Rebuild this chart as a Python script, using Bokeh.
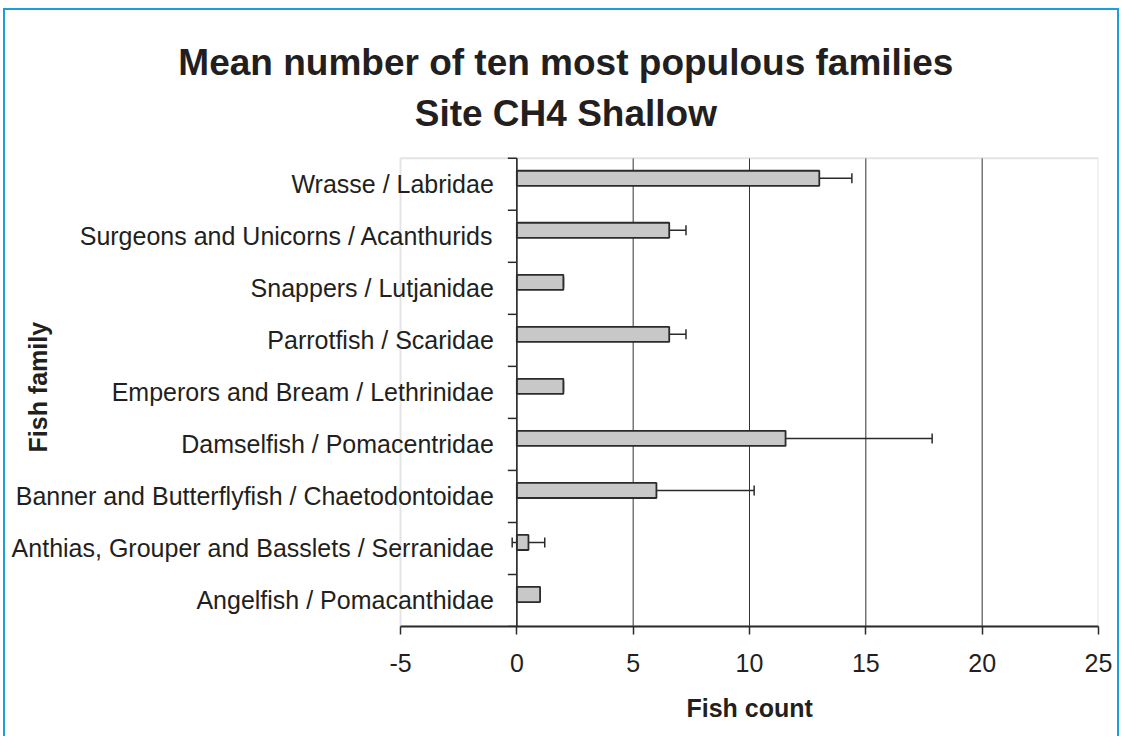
import numpy as np
from bokeh.plotting import figure
from bokeh.core.properties import value
from bokeh.models import (ColumnDataSource, Range1d, Label, BoxAnnotation, Title,
                          Whisker, TeeHead, FixedTicker)
from bokeh.embed import file_html
from bokeh.resources import INLINE

# ---- data (bottom to top, as drawn) ----
families = [
    "Angelfish / Pomacanthidae",
    "Anthias, Grouper and Basslets / Serranidae",
    "Banner and Butterflyfish / Chaetodontoidae",
    "Damselfish / Pomacentridae",
    "Emperors and Bream / Lethrinidae",
    "Parrotfish / Scaridae",
    "Snappers / Lutjanidae",
    "Surgeons and Unicorns / Acanthurids",
    "Wrasse / Labridae",
]
mean_count = [1.0, 0.5, 6.0, 11.55, 2.0, 6.55, 2.0, 6.55, 13.0]
error = [0.0, 0.7, 4.2, 6.3, 0.0, 0.72, 0.0, 0.72, 1.4]

x_ticks = [-5, 0, 5, 10, 15, 20, 25]
x_tick_labels = ["-5", "0", "5", "10", "15", "20", "25"]

title_lines = ["Mean number of ten most populous families", "Site CH4 Shallow"]
x_title = "Fish count"
y_title = "Fish family"

# ---- styles / layout ----
FONT = "Liberation Sans"
TEXT = "#231f20"
DARK = "#2b2b2b"
BLUE = "#1a9fd8"

n = len(families)
ypos = [i + 0.5 for i in range(n)]

# plot area: x -5..25 over 698 px, y 0..n over 469 px; frame extends left/up
# so that the category labels and titles are drawn inside the canvas frame
px_x = 698 / (x_ticks[-1] - x_ticks[0])
px_y = 469 / n
x_start = x_ticks[-1] - 1093 / px_x
y_end = n + 148 / px_y
bar_y = [y + 6 / px_y for y in ypos]

lower = [m - e for m, e in zip(mean_count, error)]
upper = [m + e for m, e in zip(mean_count, error)]

src = ColumnDataSource(dict(y=ypos, by=bar_y, value=mean_count, lower=lower,
                            upper=upper, name=families, zero=[0] * n))

p = figure(width=1116, height=728,
           x_range=Range1d(x_start, x_ticks[-1]), y_range=Range1d(0, y_end),
           output_backend="svg", toolbar_location=None, y_axis_location=None,
           min_border_left=0, min_border_right=23, min_border_top=0,
           min_border_bottom=111, background_fill_color="white",
           border_fill_color="white")
p.title.visible = False
p.styles = {"border-top": f"2px solid {BLUE}", "border-left": f"2px solid {BLUE}",
            "border-right": f"2px solid {BLUE}", "margin-left": "3px",
            "margin-top": "8px"}
p.outline_line_color = None
p.xgrid.visible = False
p.ygrid.visible = False

# plot area border
p.add_layout(BoxAnnotation(left=x_ticks[0], right=x_ticks[-1], bottom=0, top=n,
                           fill_alpha=0, line_color="#a4a4a4", line_width=2,
                           level="underlay"))
# vertical grid lines
gx = x_ticks[1:-1]
p.segment(x0=gx, x1=gx, y0=[0] * len(gx), y1=[n] * len(gx),
          line_color="#333333", line_width=1, level="underlay")

# x axis
ax = p.xaxis[0]
ax.bounds = (x_ticks[0], x_ticks[-1])
ax.ticker = FixedTicker(ticks=x_ticks)
ax.major_label_overrides = {t: l for t, l in zip(x_ticks, x_tick_labels)}
ax.minor_tick_line_color = None
ax.major_tick_in = 0
ax.major_tick_out = 8
ax.major_tick_line_color = DARK
ax.major_tick_line_width = 1.5
ax.axis_line_color = DARK
ax.axis_line_width = 2
ax.major_label_text_font = FONT
ax.major_label_text_font_size = "25px"
ax.major_label_text_color = TEXT
ax.major_label_standoff = 19

# x axis title, centred under the plot area
p.add_layout(Title(text=x_title, align="left", offset=(749 - 5) - 63, standoff=34,
                   text_font=FONT, text_font_style="bold", text_font_size="25px",
                   text_color=TEXT), "below")

# bars
p.hbar(y="by", left="zero", right="value", height=0.29, source=src,
       fill_color="#c8c8c8", line_color=DARK, line_width=1.8)

# error bars
p.add_layout(Whisker(source=src, base="by", lower="lower", upper="upper",
                     dimension="width", line_color=DARK, line_width=1.5,
                     upper_head=TeeHead(size=10, line_color=DARK, line_width=1.5),
                     lower_head=TeeHead(size=10, line_color=DARK, line_width=1.5)))

# category axis at x = 0
p.segment(x0=[0], x1=[0], y0=[0], y1=[n], line_color=DARK, line_width=1.5)
p.ray(x=[0] * (n + 1), y=list(range(n + 1)), length=9, angle=np.pi,
      length_units="screen", line_color=DARK, line_width=1.5)
p.text(x="zero", y="y", text="name", source=src, x_offset=-23,
       text_align="right", text_baseline="middle",
       text_font=value(FONT), text_font_size="25px", text_color=TEXT)

# titles
title_x = (565 - 516) / px_x
p.add_layout(Label(x=title_x, y=n + (158 - 61.7) / px_y, text=title_lines[0],
                   text_align="center", text_baseline="alphabetic", text_font=FONT,
                   text_font_style="bold", text_font_size="37px", text_color=TEXT))
p.add_layout(Label(x=title_x, y=n + (158 - 113) / px_y, text=title_lines[1],
                   text_align="center", text_baseline="alphabetic", text_font=FONT,
                   text_font_style="bold", text_font_size="37px", text_color=TEXT))
p.add_layout(Label(x=(37 - 516) / px_x, y=n / 2 + 0.1, text=y_title, angle=np.pi / 2,
                   text_align="center", text_baseline="middle", text_font=FONT,
                   text_font_style="bold", text_font_size="25px", text_color=TEXT))

open("out.html", "w").write(file_html(p, INLINE))
